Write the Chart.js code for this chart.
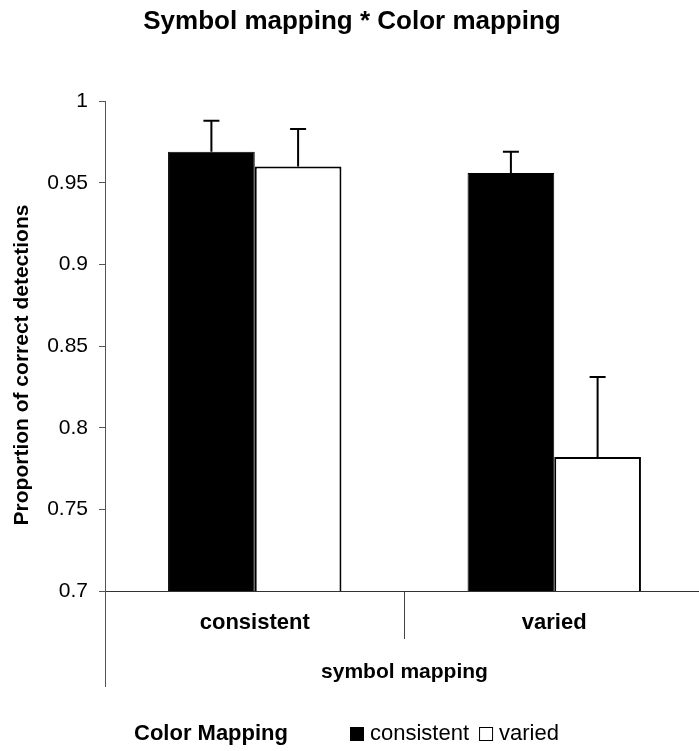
<!DOCTYPE html>
<html>
<head>
<meta charset="utf-8">
<script src="https://cdn.jsdelivr.net/npm/chart.js@4.4.1/dist/chart.umd.min.js"></script>
<style>
  html, body { margin: 0; padding: 0; background: #fff; overflow: hidden; }
  #wrap { width: 704px; height: 751px; }
</style>
</head>
<body>
<div id="wrap"><canvas id="chart"></canvas></div>
<script>
// symbol mapping categories, one bar per color mapping condition
const categories = ["consistent", "varied"];
const colorConsistent = [0.969, 0.956];
const colorVaried = [0.960, 0.782];
// upper error bars (added to the mean)
const colorConsistentErr = [0.019, 0.013];
const colorVariedErr = [0.023, 0.049];
const yTicks = [0.7, 0.75, 0.8, 0.85, 0.9, 0.95, 1];

const FONT = '"Liberation Sans", Arial, sans-serif';
const AXIS = '#555';

// draws the upward error bars on top of each bar
const errorBars = {
    id: 'errorBars',
    afterDatasetsDraw(chart) {
        const ctx = chart.ctx;
        const y = chart.scales.y;
        ctx.save();
        ctx.strokeStyle = '#000';
        ctx.lineWidth = 2;
        chart.data.datasets.forEach((ds, i) => {
            const meta = chart.getDatasetMeta(i);
            meta.data.forEach((bar, j) => {
                const top = y.getPixelForValue(ds.data[j] + ds.errors[j]);
                ctx.beginPath();
                ctx.moveTo(bar.x, bar.y);
                ctx.lineTo(bar.x, top);
                ctx.moveTo(bar.x - 8, top);
                ctx.lineTo(bar.x + 8, top);
                ctx.stroke();
            });
        });
        ctx.restore();
    }
};

// axis extension, rotated y title and the inline legend
const decor = {
    id: 'decor',
    afterDraw(chart) {
        const { ctx, chartArea } = chart;
        ctx.save();

        const ax = Math.round(chartArea.left - 0.5) + 0.5;
        ctx.strokeStyle = AXIS;
        ctx.lineWidth = 1;
        ctx.beginPath();
        ctx.moveTo(ax, chartArea.bottom);
        ctx.lineTo(ax, chartArea.bottom + 96);
        ctx.stroke();

        ctx.fillStyle = '#000';
        ctx.font = 'bold 21px ' + FONT;
        ctx.textAlign = 'center';
        ctx.textBaseline = 'middle';
        ctx.translate(22, 365);
        ctx.rotate(-Math.PI / 2);
        ctx.fillText('Proportion of correct detections', 0, 0);
        ctx.setTransform(1, 0, 0, 1, 0, 0);

        // legend
        const ly = 734;
        ctx.textAlign = 'left';
        ctx.font = 'bold 22px ' + FONT;
        ctx.fillText('Color Mapping', 134, ly);
        ctx.font = '22px ' + FONT;
        let x = 350;
        chart.data.datasets.forEach(ds => {
            ctx.fillStyle = ds.backgroundColor;
            ctx.fillRect(x, ly - 7, 14, 14);
            ctx.strokeStyle = '#000';
            ctx.lineWidth = 1;
            ctx.strokeRect(x + 0.5, ly - 6.5, 13, 13);
            ctx.fillStyle = '#000';
            ctx.fillText(ds.label, x + 20, ly);
            x += 20 + ctx.measureText(ds.label).width + 10;
        });
        ctx.restore();
    }
};

new Chart(document.getElementById('chart'), {
    type: 'bar',
    data: {
        labels: categories,
        datasets: [
            {
                label: 'consistent',
                data: colorConsistent,
                errors: colorConsistentErr,
                backgroundColor: '#000',
                borderColor: '#000',
                borderWidth: 1,
                categoryPercentage: 0.579,
                barPercentage: 1
            },
            {
                label: 'varied',
                data: colorVaried,
                errors: colorVariedErr,
                backgroundColor: '#fff',
                borderColor: '#000',
                borderWidth: 2,
                categoryPercentage: 0.579,
                barPercentage: 1
            }
        ]
    },
    options: {
        responsive: true,
        maintainAspectRatio: false,
        animation: false,
        layout: { padding: { left: 0, right: 0, top: 0, bottom: 60 } },
        plugins: {
            legend: { display: false },
            tooltip: { enabled: false },
            title: {
                display: true,
                text: 'Symbol mapping * Color mapping',
                color: '#000',
                font: { family: FONT, size: 26, weight: 'bold' },
                padding: { top: 6, bottom: 64 }
            }
        },
        scales: {
            x: {
                grid: { drawOnChartArea: false, tickLength: 48, color: '#444', offset: true },
                border: { color: '#333' },
                ticks: {
                    color: '#000',
                    padding: -29,
                    maxRotation: 0,
                    font: { family: FONT, size: 22, weight: 'bold' }
                },
                title: {
                    display: true,
                    text: 'symbol mapping',
                    color: '#000',
                    padding: { top: 6, bottom: 6 },
                    font: { family: FONT, size: 21, weight: 'bold' }
                },
                afterFit: s => { s.height = 100; }
            },
            y: {
                min: 0.7,
                max: 1,
                grid: { drawOnChartArea: false, tickLength: 6, color: AXIS },
                border: { color: AXIS },
                afterBuildTicks: s => { s.ticks = yTicks.map(v => ({ value: v })); },
                ticks: {
                    color: '#000',
                    padding: 11,
                    font: { family: FONT, size: 21 },
                    callback: v => String(Number(v.toFixed(2)))
                },
                afterFit: s => { s.width = 105; }
            }
        }
    },
    plugins: [errorBars, decor]
});
</script>
</body>
</html>
